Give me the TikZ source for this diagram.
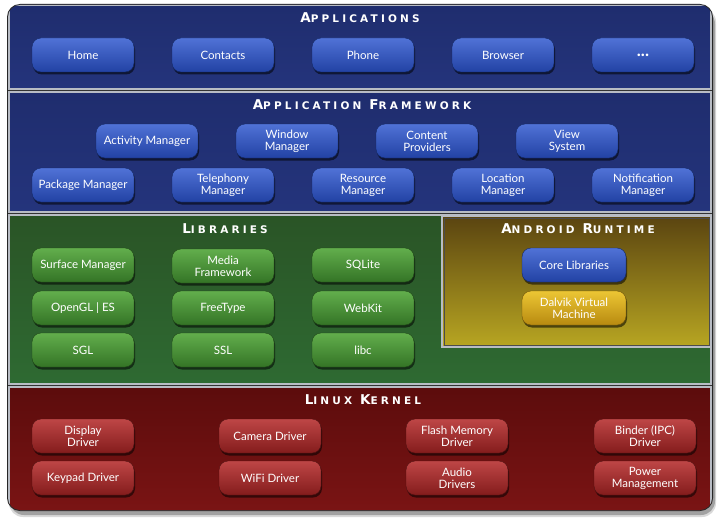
\documentclass[tikz,border=0pt]{standalone}
\usepackage{fontspec}
\setmainfont{Lato}
\newfontfamily\titlefont[LetterSpace=30]{DejaVu Sans}
\usetikzlibrary{shadows}
\definecolor{appbg}{HTML}{1F2D6E}
\definecolor{appbgb}{HTML}{24347C}
\definecolor{bluetop}{HTML}{5072D6}
\definecolor{bluebot}{HTML}{2242A4}
\definecolor{libbg}{HTML}{2A5426}
\definecolor{libbgb}{HTML}{2E6A32}
\definecolor{greentop}{HTML}{62AE4C}
\definecolor{greenbot}{HTML}{347426}
\definecolor{rtbgt}{HTML}{5A4410}
\definecolor{rtbgb}{HTML}{B8A622}
\definecolor{yeltop}{HTML}{ECC634}
\definecolor{yelbot}{HTML}{B88A10}
\definecolor{kerbg}{HTML}{5C0C0C}
\definecolor{kerbgb}{HTML}{7A1414}
\definecolor{redtop}{HTML}{BE4646}
\definecolor{redbot}{HTML}{841C1C}
\definecolor{sepgray}{HTML}{B8BCC4}
\newcommand{\ttl}[2]{{\titlefont\bfseries\fontsize{13.5}{14}\selectfont #1\fontsize{10.5}{12}\selectfont #2}}
\newcommand{\wsp}{\hspace{8pt}}
\tikzset{
  x=1pt, y=-1pt,
  bx/.style={rounded corners=9pt, minimum width=102pt, minimum height=34pt,
    text=white, align=center, inner sep=0pt,
    font=\fontsize{11.5}{12}\selectfont,
    drop shadow={shadow xshift=1pt, shadow yshift=-2.5pt, opacity=0.55, fill=black}},
  bluebx/.style={bx, top color=bluetop, bottom color=bluebot, draw=bluebot!60!black, line width=0.4pt},
  greenbx/.style={bx, top color=greentop, bottom color=greenbot, draw=greenbot!60!black, line width=0.4pt},
  yelbx/.style={bx, top color=yeltop, bottom color=yelbot, draw=yelbot!60!black, line width=0.4pt},
  redbx/.style={bx, top color=redtop, bottom color=redbot, draw=redbot!60!black, line width=0.4pt},
  band/.style={draw=sepgray, line width=1.6pt},
  title/.style={text=white, inner sep=0pt}
}
\begin{document}
\begin{tikzpicture}
\useasboundingbox (0,0) rectangle (720,519);
\fill[white] (0,0) rectangle (720,519);
% shadow of frame
\fill[black, opacity=0.25, rounded corners=14pt] (10,10) rectangle (715,515);
\fill[black, opacity=0.15, rounded corners=14pt] (9,8) rectangle (716,517);
% frame
\fill[black!85, rounded corners=13pt] (7,4) rectangle (713,511);
\begin{scope}
\clip[rounded corners=12pt] (8,5) rectangle (712,510);
\fill[black!80] (8,5) rectangle (712,510);
\draw[band, top color=appbg, bottom color=appbgb] (9,5) rectangle (711,89);
\draw[band, top color=appbg, bottom color=appbgb] (9,92) rectangle (711,212);
\draw[band, top color=libbg, bottom color=libbgb] (9,215) rectangle (711,384);
\draw[band, top color=kerbg, bottom color=kerbgb] (9,387) rectangle (711,511);
\end{scope}
\draw[sepgray, line width=1.6pt, top color=rtbgt, bottom color=rtbgb] (442,216) rectangle (711,347);
\draw[black!70, line width=0.8pt] (444,218) rectangle (709,345);

% titles
\node[title] (tApp) at (360,18) {\ttl{A}{PPLICATIONS}};
\node[title] (tFw) at (362,105) {\ttl{A}{PPLICATION}\wsp\ttl{F}{RAMEWORK}};
\node[title] (tLib) at (225,229) {\ttl{L}{IBRARIES}};
\node[title] (tRt) at (578,229) {\ttl{A}{NDROID}\wsp\ttl{R}{UNTIME}};
\node[title] (tKer) at (363,400) {\ttl{L}{INUX}\wsp\ttl{K}{ERNEL}};

% applications
\node[bluebx] (home) at (83,55) {Home};
\node[bluebx] (contacts) at (223,55) {Contacts};
\node[bluebx] (phone) at (363,55) {Phone};
\node[bluebx] (browser) at (503,55) {Browser};
\node[bluebx] (more) at (643,55) {\fontsize{17}{17}\selectfont\bfseries ...};

% framework
\node[bluebx] (actm) at (147,141) {Activity Manager};
\node[bluebx] (winm) at (287,141) {Window\\Manager};
\node[bluebx] (cont) at (427,141) {Content\\Providers};
\node[bluebx] (view) at (567,141) {View\\System};
\node[bluebx] (pkgm) at (83,185) {Package Manager};
\node[bluebx] (telm) at (223,185) {Telephony\\Manager};
\node[bluebx] (resm) at (363,185) {Resource\\Manager};
\node[bluebx] (locm) at (503,185) {Location\\Manager};
\node[bluebx] (notm) at (643,185) {Notification\\Manager};

% libraries
\node[greenbx] (surf) at (83,265) {Surface Manager};
\node[greenbx] (media) at (223,266) {Media\\Framework};
\node[greenbx] (sqlite) at (363,265) {SQLite};
\node[greenbx] (opengl) at (83,308) {OpenGL | ES};
\node[greenbx] (freetype) at (223,308) {FreeType};
\node[greenbx] (webkit) at (363,308) {WebKit};
\node[greenbx] (sgl) at (83,350) {SGL};
\node[greenbx] (ssl) at (223,350) {SSL};
\node[greenbx] (libc) at (363,350) {libc};

% runtime
\node[bluebx, minimum width=104pt] (core) at (574,265) {Core Libraries};
\node[yelbx, minimum width=104pt] (dalvik) at (574,308) {Dalvik Virtual\\Machine};

% kernel
\node[redbx] (disp) at (83,436) {Display\\Driver};
\node[redbx] (cam) at (270,436) {Camera Driver};
\node[redbx] (flash) at (457,436) {Flash Memory\\Driver};
\node[redbx] (binder) at (645,436) {Binder (IPC)\\Driver};
\node[redbx] (keyp) at (83,478) {Keypad Driver};
\node[redbx] (wifi) at (270,478) {WiFi Driver};
\node[redbx] (audio) at (457,478) {Audio\\Drivers};
\node[redbx] (power) at (645,478) {Power\\Management};
\end{tikzpicture}
\end{document}
